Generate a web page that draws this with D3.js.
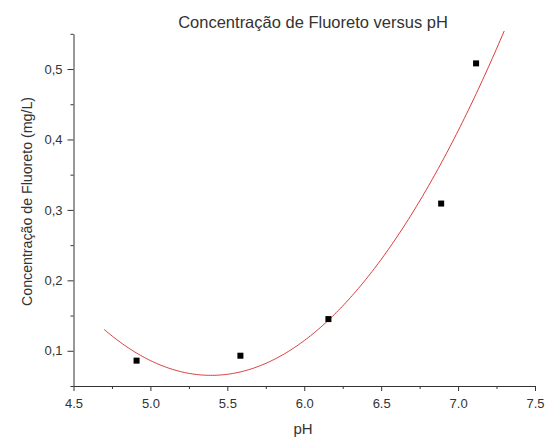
<!DOCTYPE html>
<html>
<head>
<meta charset="utf-8">
<script src="https://cdn.jsdelivr.net/npm/d3@7"></script>
<style>
  html, body { margin: 0; padding: 0; background: #fff; }
  svg { display: block; font-family: "Liberation Sans", Arial, sans-serif; }
</style>
</head>
<body>
<svg id="chart" width="545" height="437"></svg>
<script>
// Measured samples: pH and fluoride concentration (mg/L)
const phValues = [4.91, 5.585, 6.157, 6.89, 7.117];
const fluorideValues = [0.086, 0.093, 0.145, 0.309, 0.508];

// Axis ticks
const xTicks = [4.5, 5.0, 5.5, 6.0, 6.5, 7.0, 7.5];
const xMinorTicks = [4.75, 5.25, 5.75, 6.25, 6.75, 7.25];
const yTicks = [0.1, 0.2, 0.3, 0.4, 0.5];
const yMinorTicks = [0.05, 0.15, 0.25, 0.35, 0.45, 0.55];

// Axis extents and the pH span of the polynomial fit
const xDomain = [4.5, 7.5];
const yDomain = [0.05, 0.55];
const fitRange = [4.7, 7.3];

const titleText = "Concentração de Fluoreto versus pH";
const xLabelText = "pH";
const yLabelText = "Concentração de Fluoreto (mg/L)";

const svg = d3.select("#chart");
const ink = "#333";

const x = d3.scaleLinear().domain(xDomain).range([73.5, 535]);
const y = d3.scaleLinear().domain(yDomain).range([386, 33.8]);

// Second-order least-squares fit of the samples
function quadFit(xs, ys) {
  const n = xs.length;
  let s = [0, 0, 0, 0, 0], t = [0, 0, 0];
  for (let i = 0; i < n; i++) {
    let p = 1;
    for (let k = 0; k <= 4; k++) { s[k] += p; if (k <= 2) t[k] += p * ys[i]; p *= xs[i]; }
  }
  const A = [[s[0], s[1], s[2], t[0]], [s[1], s[2], s[3], t[1]], [s[2], s[3], s[4], t[2]]];
  for (let c = 0; c < 3; c++) {
    for (let r = c + 1; r < 3; r++) {
      const f = A[r][c] / A[c][c];
      for (let k = c; k < 4; k++) A[r][k] -= f * A[c][k];
    }
  }
  const coef = [0, 0, 0];
  for (let r = 2; r >= 0; r--) {
    let v = A[r][3];
    for (let k = r + 1; k < 3; k++) v -= A[r][k] * coef[k];
    coef[r] = v / A[r][r];
  }
  return v => coef[0] + coef[1] * v + coef[2] * v * v;
}
const fit = quadFit(phValues, fluorideValues);
const fitPoints = d3.range(0, 201).map(i => {
  const p = fitRange[0] + (fitRange[1] - fitRange[0]) * i / 200;
  return [p, fit(p)];
});

// Axes
const ptLocale = d3.formatLocale({ decimal: ",", thousands: ".", grouping: [3], currency: ["", ""] });
const yFmt = ptLocale.format(".1f");
const xFmt = d3.format(".1f");

const gx = svg.append("g").attr("transform", `translate(0,${y(yDomain[0])})`)
  .call(d3.axisBottom(x).tickValues(xTicks).tickFormat(xFmt).tickSize(5).tickSizeOuter(0).tickPadding(8));
const gxMinor = svg.append("g").attr("transform", `translate(0,${y(yDomain[0])})`)
  .call(d3.axisBottom(x).tickValues(xMinorTicks).tickFormat("").tickSize(3).tickSizeOuter(0));
const gy = svg.append("g").attr("transform", `translate(${x(xDomain[0])},0)`)
  .call(d3.axisLeft(y).tickValues(yTicks).tickFormat(yFmt).tickSize(6).tickSizeOuter(0).tickPadding(5));
const gyMinor = svg.append("g").attr("transform", `translate(${x(xDomain[0])},0)`)
  .call(d3.axisLeft(y).tickValues(yMinorTicks).tickFormat("").tickSize(3).tickSizeOuter(0));

gxMinor.select(".domain").remove();
gyMinor.select(".domain").remove();
[gx, gy, gxMinor, gyMinor].forEach(g => {
  g.selectAll("path, line").attr("stroke", ink).attr("stroke-width", 1);
  g.selectAll("text").attr("fill", ink).attr("font-size", 13)
    .attr("font-family", "'Liberation Sans', Arial, sans-serif");
});

// Fitted curve
svg.append("path")
  .datum(fitPoints)
  .attr("fill", "none")
  .attr("stroke", "#e03a3a")
  .attr("stroke-width", 1)
  .attr("d", d3.line().x(d => x(d[0])).y(d => y(d[1])));

// Sample markers
const size = 6;
svg.append("g").selectAll("rect")
  .data(phValues.map((p, i) => [p, fluorideValues[i]]))
  .join("rect")
  .attr("x", d => x(d[0]) - size / 2)
  .attr("y", d => y(d[1]) - size / 2)
  .attr("width", size)
  .attr("height", size)
  .attr("fill", "#000");

// Title and axis labels
svg.append("text")
  .attr("x", 313).attr("y", 28)
  .attr("text-anchor", "middle")
  .attr("font-size", 16.5)
  .attr("fill", ink)
  .text(titleText);

svg.append("text")
  .attr("x", 303).attr("y", 434)
  .attr("text-anchor", "middle")
  .attr("font-size", 15)
  .attr("fill", ink)
  .text(xLabelText);

svg.append("text")
  .attr("transform", "translate(32,201.5) rotate(-90)")
  .attr("text-anchor", "middle")
  .attr("font-size", 14.2)
  .attr("fill", ink)
  .text(yLabelText);
</script>
</body>
</html>
